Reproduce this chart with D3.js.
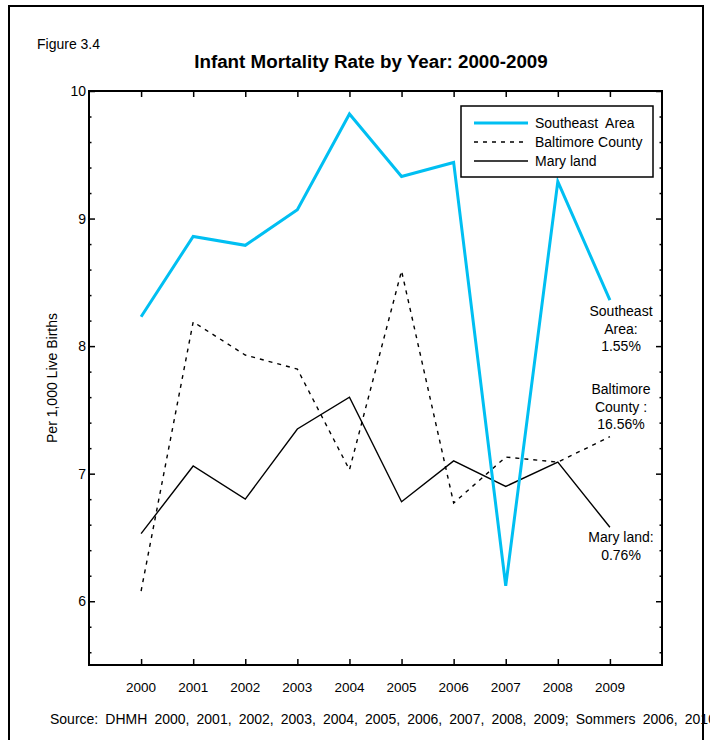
<!DOCTYPE html>
<html>
<head>
<meta charset="utf-8">
<script src="https://cdn.jsdelivr.net/npm/d3@7"></script>
<style>
  html, body { margin: 0; padding: 0; background: #fff; overflow: hidden; }
  svg { display: block; font-family: "Liberation Sans", Arial, sans-serif; }
</style>
</head>
<body>
<div id="chart"></div>
<script>
// data
const years = [2000, 2001, 2002, 2003, 2004, 2005, 2006, 2007, 2008, 2009];
const southeastArea = [8.23, 8.86, 8.79, 9.07, 9.82, 9.33, 9.44, 6.12, 9.29, 8.36];
const baltimoreCounty = [6.08, 8.19, 7.93, 7.82, 7.03, 8.59, 6.77, 7.13, 7.09, 7.29];
const maryland = [6.53, 7.06, 6.80, 7.35, 7.60, 6.78, 7.10, 6.90, 7.09, 6.58];
const yTicks = [6, 7, 8, 9, 10];
const legendLabels = ["Southeast  Area", "Baltimore County", "Mary land"];
const endNotes = [
  { lines: ["Southeast", "Area:", "1.55%"], top: 311 },
  { lines: ["Baltimore", "County :", "16.56%"], top: 389 },
  { lines: ["Mary land:", "0.76%"], top: 537 }
];

const width = 710, height = 740;
const plot = { left: 89, top: 91, right: 662, bottom: 665 };
const cyan = "#00BFF2";

const svg = d3.select("#chart").append("svg")
  .attr("width", width)
  .attr("height", height);

// outer figure border
svg.append("rect")
  .attr("x", 9).attr("y", 6)
  .attr("width", 694).attr("height", 760)
  .attr("fill", "none").attr("stroke", "#000").attr("stroke-width", 2);

svg.append("text")
  .attr("x", 37).attr("y", 49)
  .attr("font-size", 14)
  .text("Figure 3.4");

svg.append("text")
  .attr("x", 371).attr("y", 68)
  .attr("text-anchor", "middle")
  .attr("font-size", 18.8).attr("font-weight", "bold")
  .text("Infant Mortality Rate by Year: 2000-2009");

const x = d3.scaleLinear().domain([1999, 2010]).range([plot.left, plot.right]);
const y = d3.scaleLinear().domain([5.5, 10]).range([plot.bottom, plot.top]);

const g = svg.append("g");

// major/minor ticks on all four sides, pointing inward
const minorTicks = d3.range(5.6, 10.001, 0.2).filter(v => Math.abs(v - Math.round(v)) > 0.01);

g.append("g")
  .attr("transform", `translate(${plot.left},0)`)
  .call(d3.axisRight(y).tickValues(yTicks).tickSize(6).tickFormat(""))
  .call(a => a.select(".domain").remove());
g.append("g")
  .attr("transform", `translate(${plot.left},0)`)
  .call(d3.axisRight(y).tickValues(minorTicks).tickSize(2.5).tickFormat(""))
  .call(a => a.select(".domain").remove());
g.append("g")
  .attr("transform", `translate(${plot.right},0)`)
  .call(d3.axisLeft(y).tickValues(yTicks).tickSize(6).tickFormat(""))
  .call(a => a.select(".domain").remove());
g.append("g")
  .attr("transform", `translate(${plot.right},0)`)
  .call(d3.axisLeft(y).tickValues(minorTicks).tickSize(2.5).tickFormat(""))
  .call(a => a.select(".domain").remove());
g.append("g")
  .attr("transform", `translate(0,${plot.bottom})`)
  .call(d3.axisTop(x).tickValues(years).tickSize(6).tickFormat(""))
  .call(a => a.select(".domain").remove());
g.append("g")
  .attr("transform", `translate(0,${plot.top})`)
  .call(d3.axisBottom(x).tickValues(years).tickSize(6).tickFormat(""))
  .call(a => a.select(".domain").remove());
g.selectAll(".tick line").attr("stroke", "#000").attr("stroke-width", 1.5);

// tick labels
svg.append("g").selectAll("text")
  .data(yTicks).join("text")
  .attr("x", plot.left - 3)
  .attr("y", d => y(d) + 5)
  .attr("text-anchor", "end")
  .attr("font-size", 14)
  .text(d => d);

svg.append("g").selectAll("text")
  .data(years).join("text")
  .attr("x", d => x(d))
  .attr("y", 692)
  .attr("text-anchor", "middle")
  .attr("font-size", 13.5)
  .text(d => d);

svg.append("text")
  .attr("transform", `translate(57,${(plot.top + plot.bottom) / 2}) rotate(-90)`)
  .attr("text-anchor", "middle")
  .attr("font-size", 14)
  .text("Per 1,000 Live Births");

// plot frame
svg.append("rect")
  .attr("x", plot.left).attr("y", plot.top)
  .attr("width", plot.right - plot.left).attr("height", plot.bottom - plot.top)
  .attr("fill", "none").attr("stroke", "#000").attr("stroke-width", 2);

const line = d3.line().x((d, i) => x(years[i])).y(d => y(d));

svg.append("path").datum(maryland)
  .attr("d", line).attr("fill", "none")
  .attr("stroke", "#000").attr("stroke-width", 1.4);
svg.append("path").datum(baltimoreCounty)
  .attr("d", line).attr("fill", "none")
  .attr("stroke", "#000").attr("stroke-width", 1.4)
  .attr("stroke-dasharray", "4,5");
svg.append("path").datum(southeastArea)
  .attr("d", line).attr("fill", "none")
  .attr("stroke", cyan).attr("stroke-width", 3);

// legend
const legend = svg.append("g");
legend.append("rect")
  .attr("x", 461).attr("y", 106).attr("width", 192).attr("height", 71)
  .attr("fill", "#fff").attr("stroke", "#000").attr("stroke-width", 1.5);
const legendStyles = [
  { stroke: cyan, width: 3, dash: null },
  { stroke: "#000", width: 1.4, dash: "4,5" },
  { stroke: "#000", width: 1.4, dash: null }
];
legendLabels.forEach((label, i) => {
  const ly = 123 + i * 19;
  legend.append("line")
    .attr("x1", 474).attr("x2", 528).attr("y1", ly).attr("y2", ly)
    .attr("stroke", legendStyles[i].stroke)
    .attr("stroke-width", legendStyles[i].width)
    .attr("stroke-dasharray", legendStyles[i].dash);
  legend.append("text")
    .attr("x", 535).attr("y", ly + 5)
    .attr("font-size", 14)
    .style("white-space", "pre")
    .text(label);
});

// end-of-line annotations
endNotes.forEach(note => {
  note.lines.forEach((t, i) => {
    svg.append("text")
      .attr("x", 621).attr("y", note.top + 5 + i * 17.5)
      .attr("text-anchor", "middle")
      .attr("font-size", 14)
      .text(t);
  });
});

svg.append("text")
  .attr("x", 50).attr("y", 724)
  .attr("font-size", 14)
  .attr("word-spacing", 3.2)
  .text("Source: DHMH 2000, 2001, 2002, 2003, 2004, 2005, 2006, 2007, 2008, 2009; Sommers 2006, 2010");
</script>
</body>
</html>
